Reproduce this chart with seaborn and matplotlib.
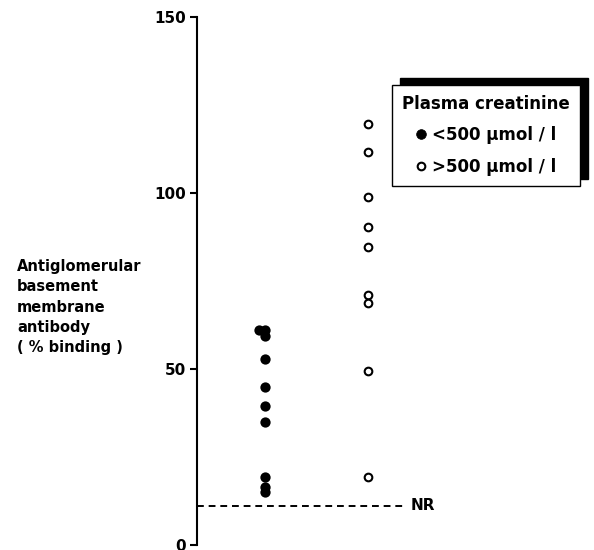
import matplotlib
matplotlib.use('Agg')
import matplotlib.pyplot as plt
from matplotlib.lines import Line2D
from matplotlib.patches import Rectangle
import seaborn as sns
import pandas as pd

# values (% binding)
low_creat = [61.2, 61.2, 59.5, 53.0, 45.1, 39.6, 35.0, 19.3, 16.7, 15.0]
high_creat = [119.6, 111.8, 98.9, 90.5, 84.8, 71.0, 68.8, 49.6, 19.5]
groups = ['low', 'high']
nr_level = 11.2
y_ticks = [0, 50, 100, 150]

sns.set_style("white")
plt.rcParams['font.family'] = ['DejaVu Sans']
plt.rcParams['font.weight'] = 'bold'
plt.rcParams['text.color'] = 'black'
plt.rcParams['axes.labelcolor'] = 'black'
plt.rcParams['ytick.color'] = 'black'

df = pd.DataFrame({
    'group': ['low'] * len(low_creat) + ['high'] * len(high_creat),
    'value': low_creat + high_creat,
})

fig = plt.figure(figsize=(5.94, 5.5), dpi=100)
ax = fig.add_axes([197 / 594, 4.7 / 550, 397 / 594, 528 / 550])
ax.set_facecolor('none')

# swarm with small markers so only true overlaps get pushed aside
sns.swarmplot(data=df[df.group == 'low'], x='group', y='value', order=groups,
              color='black', size=4.0, linewidth=0, ax=ax)
n_low = len(ax.collections)
sns.swarmplot(data=df[df.group == 'high'], x='group', y='value', order=groups,
              color='white', edgecolor='black', linewidth=1.5, size=3.5, ax=ax)

ax.set_xlim(-0.66, 3.19)
ax.set_ylim(0, 150)
ax.set_yticks(y_ticks)
ax.set_xticks([])
ax.set_xlabel('')
for s in ['top', 'right', 'bottom']:
    ax.spines[s].set_visible(False)
ax.spines['left'].set_linewidth(1.5)
ax.spines['left'].set_color('black')
ax.tick_params(axis='y', direction='out', length=5, width=1.5, pad=3,
               labelsize=11, colors='black', left=True)
for t in ax.get_yticklabels():
    t.set_fontweight('bold')

ax.set_ylabel('Antiglomerular\nbasement\nmembrane\nantibody\n( % binding )',
              rotation=0, ha='left', va='center', multialignment='left',
              fontsize=10.5, fontweight='bold', linespacing=1.45, color='black')
ax.yaxis.set_label_coords(-0.453, 0.451)

# non-reactive threshold
ax.axhline(nr_level, xmin=0, xmax=0.524, color='black', lw=1.4, ls=(0, (3.5, 2.5)))
ax.text(1.41, nr_level, 'NR', ha='left', va='center', fontsize=11, fontweight='bold')

handles = [
    Line2D([], [], ls='none', marker='o', ms=7.0, mfc='black', mec='black', mew=0.5),
    Line2D([], [], ls='none', marker='o', ms=5.5, mfc='white', mec='black', mew=1.5),
]
leg = ax.legend(handles, ['<500 µmol / l', '>500 µmol / l'],
                title='Plasma creatinine', loc='upper left',
                bbox_to_anchor=(392 / 594, 1 - 85 / 550), bbox_transform=fig.transFigure,
                borderaxespad=0, prop={'size': 12, 'weight': 'bold'},
                title_fontproperties={'size': 12, 'weight': 'bold'},
                handlelength=0.7, handletextpad=0.3, labelspacing=0.8,
                borderpad=0.6, fancybox=False, framealpha=1, edgecolor='black')
leg.get_frame().set_linewidth(1.0)

fig.canvas.draw()

# freeze swarm positions, then show the markers at full size
for i, coll in enumerate(ax.collections):
    if 'draw' in coll.__dict__:
        del coll.draw
    coll.set_sizes([(7.4 if i < n_low else 5.5) ** 2])

# offset black shadow behind the key box
bb = leg.get_window_extent().transformed(fig.transFigure.inverted())
ax.add_patch(Rectangle((bb.x0 + 8 / 594, bb.y0 + 7 / 550), bb.width, bb.height,
                       transform=fig.transFigure, facecolor='black', edgecolor='black',
                       zorder=4, clip_on=False))

fig.savefig('out.png', dpi=100, facecolor='white')
